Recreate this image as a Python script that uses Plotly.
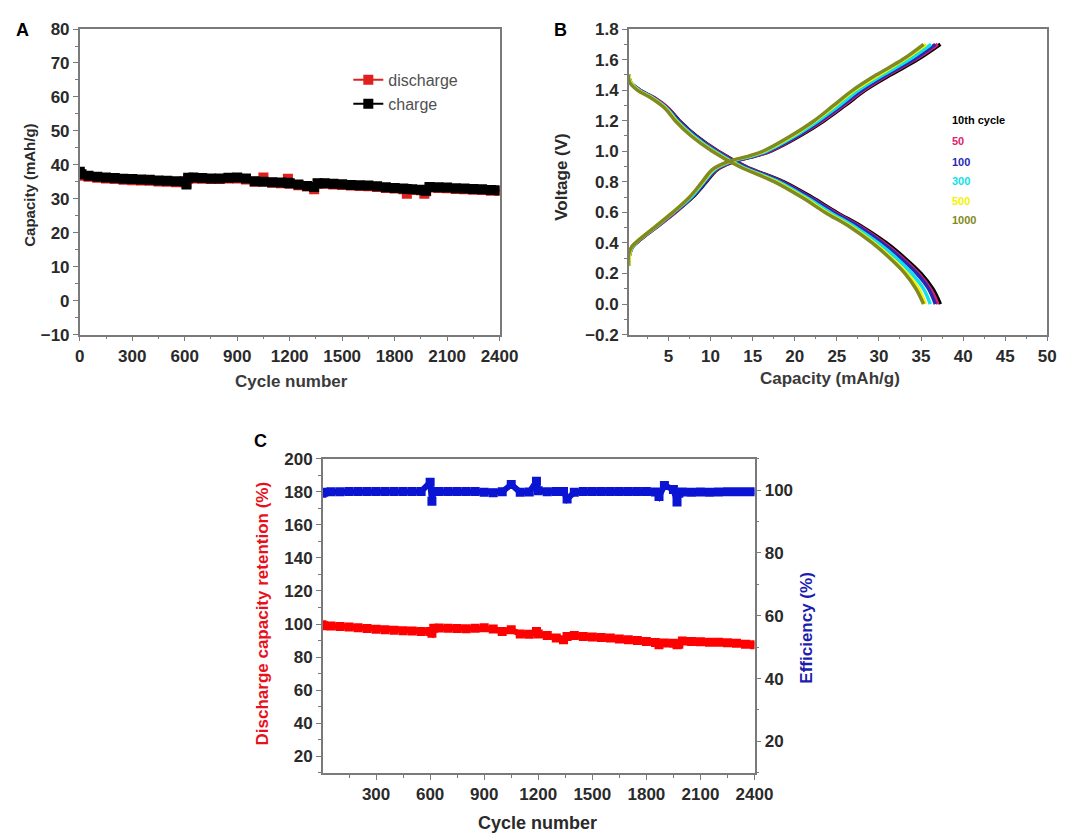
import plotly.graph_objects as go

W, H = 1072, 839

# ---- panel A / C : cycling data ----
cycles = [0, 10, 50, 100, 150, 200, 250, 300, 350, 400,
          450, 500, 550, 600, 610, 620, 650, 700, 750, 800,
          850, 900, 950, 1000, 1050, 1100, 1150, 1190, 1200, 1250,
          1300, 1340, 1360, 1400, 1450, 1500, 1550, 1600, 1650, 1700,
          1750, 1800, 1850, 1870, 1900, 1950, 1970, 1980, 2000, 2050,
          2100, 2150, 2200, 2250, 2300, 2350, 2400]

charge_cap = [38.0, 37.2, 36.8, 36.5, 36.3, 36.1, 35.9, 35.8, 35.7, 35.6,
              35.4, 35.3, 35.2, 35.2, 34.2, 36.2, 36.3, 36.1, 36.0, 36.0,
              36.2, 36.3, 36.0, 35.2, 35.0, 34.9, 34.8, 34.7, 34.6, 34.2,
              33.8, 33.5, 34.6, 34.6, 34.4, 34.3, 34.1, 34.0, 33.9, 33.7,
              33.4, 33.2, 33.0, 32.9, 32.8, 32.7, 32.5, 32.4, 33.5, 33.4,
              33.3, 33.1, 33.0, 32.9, 32.8, 32.6, 32.5]

discharge_cap = [37.2, 36.8, 36.5, 36.2, 36.0, 35.8, 35.6, 35.5, 35.4, 35.3,
                 35.1, 35.0, 34.9, 34.9, 34.6, 35.9, 36.0, 35.9, 35.8, 35.8,
                 36.0, 36.0, 35.7, 35.0, 36.3, 34.7, 34.6, 35.9, 34.4, 34.0,
                 33.6, 32.8, 34.4, 34.4, 34.2, 34.1, 33.9, 33.8, 33.7, 33.5,
                 33.2, 33.0, 32.8, 31.5, 32.6, 32.5, 31.5, 32.2, 33.3, 33.2,
                 33.1, 32.9, 32.8, 32.7, 32.6, 32.4, 32.3]

retention = [99.5, 99.0, 98.8, 98.5, 98.2, 97.8, 97.3, 96.8, 96.6, 96.3,
             96.0, 95.8, 95.5, 95.5, 94.5, 97.5, 97.6, 97.5, 97.3, 97.2,
             97.4, 97.8, 97.0, 95.5, 96.5, 94.0, 93.8, 95.5, 94.0, 93.0,
             91.5, 90.5, 92.5, 93.0, 92.5, 92.2, 91.8, 91.5, 91.0, 90.5,
             90.0, 89.5, 88.8, 87.5, 88.5, 88.3, 87.5, 87.8, 89.8, 89.5,
             89.3, 89.0, 89.0, 88.7, 88.3, 87.8, 87.5]

efficiency = [99.0, 99.3, 99.5, 99.5, 99.6, 99.6, 99.6, 99.6, 99.6, 99.6,
              99.6, 99.6, 99.6, 102.5, 96.5, 99.6, 99.6, 99.6, 99.6, 99.6,
              99.6, 99.3, 99.2, 99.5, 101.8, 99.3, 99.4, 102.8, 99.8, 99.5,
              99.6, 99.6, 97.2, 99.3, 99.6, 99.6, 99.6, 99.6, 99.6, 99.6,
              99.6, 99.6, 99.4, 98.0, 101.5, 100.2, 96.2, 99.0, 99.4, 99.3,
              99.4, 99.3, 99.4, 99.5, 99.5, 99.5, 99.5]

# ---- panel B : voltage profiles ----
cycle_names = ["10th cycle", "50", "100", "300", "500", "1000"]
cycle_colors = ["#000000", "#e0206e", "#2828b4", "#10e0ea", "#f2f200", "#808a20"]

v_dis = [1.50, 1.45, 1.40, 1.35, 1.28, 1.20, 1.10, 1.00, 0.90,
         0.80, 0.70, 0.60, 0.50, 0.40, 0.30, 0.20, 0.10, 0.00]
cap_dis = [
    [0.3, 0.5, 1.6, 3.3, 5.0, 6.3, 8.3, 10.9, 14.2, 18.7, 22.0, 25.0, 28.2, 30.9, 33.1, 35.0, 36.4, 37.3],
    [0.3, 0.5, 1.6, 3.3, 5.0, 6.2, 8.2, 10.8, 14.1, 18.5, 21.8, 24.8, 28.0, 30.6, 32.8, 34.7, 36.1, 37.0],
    [0.3, 0.5, 1.6, 3.2, 4.9, 6.2, 8.2, 10.7, 14.0, 18.4, 21.7, 24.6, 27.8, 30.4, 32.6, 34.5, 35.9, 36.7],
    [0.3, 0.5, 1.5, 3.1, 4.8, 6.0, 8.0, 10.5, 13.7, 18.1, 21.3, 24.2, 27.3, 29.9, 32.1, 33.9, 35.3, 36.1],
    [0.3, 0.5, 1.4, 3.0, 4.7, 5.9, 7.8, 10.3, 13.5, 17.8, 21.0, 23.8, 26.9, 29.4, 31.5, 33.3, 34.7, 35.5],
    [0.2, 0.4, 1.3, 2.9, 4.6, 5.8, 7.7, 10.2, 13.4, 17.6, 20.8, 23.6, 26.7, 29.2, 31.3, 33.1, 34.4, 35.3],
]

v_chg = [0.25, 0.33, 0.38, 0.42, 0.50, 0.60, 0.70, 0.80, 0.88, 0.93,
         0.97, 1.00, 1.10, 1.20, 1.30, 1.40, 1.50, 1.60, 1.70]
cap_chg = [
    [0.3, 0.4, 0.8, 1.6, 3.5, 5.8, 7.9, 9.5, 10.8, 12.7, 15.4, 17.1, 20.6, 23.5, 26.0, 28.4, 31.4, 34.6, 37.3],
    [0.3, 0.4, 0.8, 1.6, 3.5, 5.8, 7.8, 9.4, 10.7, 12.6, 15.3, 17.0, 20.4, 23.3, 25.8, 28.2, 31.1, 34.3, 37.0],
    [0.3, 0.4, 0.8, 1.6, 3.4, 5.7, 7.8, 9.4, 10.6, 12.5, 15.2, 16.8, 20.3, 23.1, 25.6, 28.0, 30.9, 34.1, 36.7],
    [0.3, 0.4, 0.8, 1.5, 3.4, 5.6, 7.7, 9.2, 10.5, 12.3, 15.0, 16.6, 20.0, 22.8, 25.3, 27.6, 30.5, 33.6, 36.2],
    [0.3, 0.4, 0.7, 1.5, 3.3, 5.5, 7.5, 9.1, 10.3, 12.1, 14.7, 16.3, 19.7, 22.4, 24.8, 27.1, 30.0, 33.0, 35.6],
    [0.2, 0.3, 0.7, 1.5, 3.3, 5.5, 7.5, 9.0, 10.2, 12.0, 14.6, 16.2, 19.5, 22.3, 24.6, 26.9, 29.7, 32.8, 35.3],
]


def px_x(p):
    return p / W


def px_y(p):
    return 1 - p / H


FONT = "Liberation Sans, Arial, sans-serif"
FRAME = "#7a7a7a"
TICKFONT = dict(family=FONT, size=17, color="#2a2a2a", weight="bold")


def axis(domain, rng, tick0, dtick, minor_dtick, anchor, mirror=True, side=None, size=17, fmt=None):
    d = dict(domain=domain, range=rng, tickmode="linear", tick0=tick0, dtick=dtick,
             ticks="outside", ticklen=5, tickwidth=1.3, tickcolor=FRAME,
             minor=dict(dtick=minor_dtick, tick0=tick0, ticks="outside", ticklen=3,
                        tickwidth=1.2, tickcolor=FRAME),
             showline=True, linecolor=FRAME, linewidth=1.6, mirror=mirror,
             showgrid=False, zeroline=False, anchor=anchor,
             tickfont=dict(TICKFONT, size=size))
    if side:
        d["side"] = side
    if fmt:
        d["tickformat"] = fmt
    return d


fig = go.Figure()

# panel A
fig.add_trace(go.Scatter(x=cycles, y=discharge_cap, name="discharge", mode="lines+markers",
                         line=dict(color="#e0201e", width=2),
                         marker=dict(symbol="square", size=10, color="#e0201e"),
                         xaxis="x", yaxis="y"))
fig.add_trace(go.Scatter(x=cycles, y=charge_cap, name="charge", mode="lines+markers",
                         line=dict(color="#000000", width=2),
                         marker=dict(symbol="square", size=10, color="#000000"),
                         xaxis="x", yaxis="y"))

# panel B (10th cycle drawn first, later cycles on top)
for i in range(len(cycle_names)):
    for caps, volts in ((cap_dis[i], v_dis), (cap_chg[i], v_chg)):
        fig.add_trace(go.Scatter(x=caps, y=volts, mode="lines", showlegend=False,
                                 line=dict(color=cycle_colors[i], width=3.5, shape="spline"),
                                 xaxis="x2", yaxis="y2"))

# panel C
fig.add_trace(go.Scatter(x=cycles, y=retention, mode="lines+markers", showlegend=False,
                         line=dict(color="#ff0000", width=6),
                         marker=dict(symbol="square", size=9, color="#ff0000"),
                         xaxis="x3", yaxis="y3"))
fig.add_trace(go.Scatter(x=cycles, y=efficiency, mode="lines+markers", showlegend=False,
                         line=dict(color="#0a14d2", width=6),
                         marker=dict(symbol="square", size=9, color="#0a14d2"),
                         xaxis="x3", yaxis="y4"))

dom_top = [px_y(325), px_y(12.3)]
dom_c = [px_y(773.3), px_y(452)]

fig.update_layout(
    width=W, height=H,
    margin=dict(l=0, r=0, t=0, b=0),
    paper_bgcolor="white", plot_bgcolor="white",
    font=dict(family=FONT),
    xaxis=axis([px_x(68.3), px_x(497.7)], [0, 2400], 0, 300, 150, "y"),
    yaxis=axis(dom_top, [-10, 80], 0, 10, 5, "x"),
    xaxis2=axis([px_x(630), px_x(1058)], [0.3, 50], 0, 5, 2.5, "y2"),
    yaxis2=axis(dom_top, [-0.2, 1.8], 0, 0.2, 0.1, "x2", fmt=".1f"),
    xaxis3=axis([px_x(317), px_x(758.5)], [5, 2400], 0, 300, 150, "y3"),
    yaxis3=axis(dom_c, [10, 200], 0, 20, 10, "x3", mirror=False),
    yaxis4=dict(axis(dom_c, [10, 110], 0, 20, 10, "x3", mirror=False, side="right"),
                overlaying="y3"),
    legend=dict(x=px_x(343), y=px_y(47), xanchor="left", yanchor="top",
                bgcolor="rgba(0,0,0,0)", font=dict(family=FONT, size=16, color="#505050"),
                tracegroupgap=0),
    showlegend=True,
)

ann = [
    ("A", 10, 13, 18, "#000000", 0),
    ("B", 560, 13, 18, "#000000", 0),
    ("C", 253, 434, 18, "#000000", 0),
    ("Capacity (mAh/g)", 16, 172, 15, "#2a2a2a", -90),
    ("Cycle number", 285, 373, 17, "#3a3a3a", 0),
    ("Voltage (V)", 561, 163, 17, "#2a2a2a", -90),
    ("Capacity (mAh/g)", 836, 370, 17, "#3a3a3a", 0),
    ("Discharge capacity retention (%)", 255, 610, 17, "#e8101a", -90),
    ("Efficiency (%)", 812, 625, 17, "#1c1cb0", -90),
    ("Cycle number", 536, 825, 18, "#2a2a2a", 0),
]
for text, x, y, size, color, angle in ann:
    fig.add_annotation(text=text, x=px_x(x), y=px_y(y), xref="paper", yref="paper",
                       showarrow=False, textangle=angle, xanchor="center", yanchor="middle",
                       font=dict(family=FONT, size=size, color=color, weight="bold"))

# legend of panel B: coloured labels
label_y = [105, 127, 148, 168, 188, 208]
for name, color, y in zip(cycle_names, cycle_colors, label_y):
    fig.add_annotation(text=name, x=px_x(958), y=px_y(y), xref="paper", yref="paper",
                       showarrow=False, xanchor="left", yanchor="middle",
                       font=dict(family=FONT, size=11, color=color, weight="bold"))

fig.write_html("out.html")
